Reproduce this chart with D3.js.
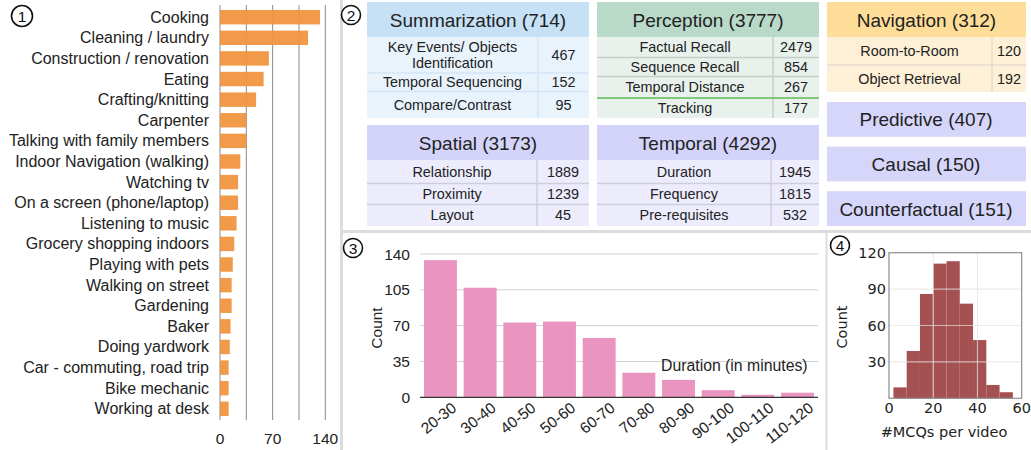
<!DOCTYPE html>
<html>
<head>
<meta charset="utf-8">
<script src="https://cdn.jsdelivr.net/npm/d3@7"></script>
<style>
  body { margin: 0; background: #fff; }
  svg { display: block; font-family: "Liberation Sans", Arial, Helvetica, sans-serif; }
</style>
</head>
<body>
<div id="chart"></div>
<script>
// ---- data ----
const activities = ["Cooking", "Cleaning / laundry", "Construction / renovation", "Eating",
  "Crafting/knitting", "Carpenter", "Talking with family members", "Indoor Navigation (walking)",
  "Watching tv", "On a screen (phone/laptop)", "Listening to music", "Grocery shopping indoors",
  "Playing with pets", "Walking on street", "Gardening", "Baker", "Doing yardwork",
  "Car - commuting, road trip", "Bike mechanic", "Working at desk"];
const activityCounts = [133, 117, 65, 58, 48, 35, 35, 27, 24, 24, 22, 19, 17, 15.5, 15.5, 14, 13, 11.5, 11.5, 11.5];
const activityTicks = [0, 70, 140];

const durations = ["20-30", "30-40", "40-50", "50-60", "60-70", "70-80", "80-90", "90-100", "100-110", "110-120"];
const durationCounts = [134, 107, 73, 74, 58, 24, 17, 7, 2.5, 4.5];
const durationTicks = [0, 35, 70, 105, 140];

const mcqBinEdges = [2, 8, 14, 20, 26, 32, 38, 44, 50, 56];
const mcqCounts = [9, 39, 86, 111, 113, 78, 48, 11, 5];
const mcqXTicks = [0, 20, 40, 60];
const mcqYTicks = [30, 60, 90, 120];

const summarizationRows = ["Key Events/ Objects|Identification", "Temporal Sequencing", "Compare/Contrast"];
const summarizationCounts = [467, 152, 95];
const perceptionRows = ["Factual Recall", "Sequence Recall", "Temporal Distance", "Tracking"];
const perceptionCounts = [2479, 854, 267, 177];
const navigationRows = ["Room-to-Room", "Object Retrieval"];
const navigationCounts = [120, 192];
const spatialRows = ["Relationship", "Proximity", "Layout"];
const spatialCounts = [1889, 1239, 45];
const temporalRows = ["Duration", "Frequency", "Pre-requisites"];
const temporalCounts = [1945, 1815, 532];
const singleCategories = ["Predictive (407)", "Causal (150)", "Counterfactual (151)"];

const svg = d3.select("#chart").append("svg")
  .attr("width", 1031)
  .attr("height", 450);

// panel separators
svg.append("line").attr("x1", 341.5).attr("x2", 341.5).attr("y1", 0).attr("y2", 450)
  .attr("stroke", "#dcdcdc").attr("stroke-width", 3);
svg.append("line").attr("x1", 341).attr("x2", 1031).attr("y1", 231.5).attr("y2", 231.5)
  .attr("stroke", "#dcdcdc").attr("stroke-width", 3);
svg.append("line").attr("x1", 826.5).attr("x2", 826.5).attr("y1", 233).attr("y2", 450)
  .attr("stroke", "#dcdcdc").attr("stroke-width", 2);

const badge = (cx, cy, r, label) => {
  svg.append("circle").attr("cx", cx).attr("cy", cy).attr("r", r)
    .attr("fill", "#fff").attr("stroke", "#111").attr("stroke-width", 1.6);
  svg.append("text").attr("x", cx).attr("y", cy + 5.5).attr("text-anchor", "middle")
    .attr("font-size", 15.5).attr("fill", "#111").text(label);
};

// ---- panel 1: activities ----
const x1 = d3.scaleLinear().domain([0, 140]).range([220, 325.3]);
const y1 = d3.scaleBand().domain(activities).range([10, 416]).paddingInner(0.3).paddingOuter(0);

svg.append("g").selectAll("line")
  .data(d3.range(0, 141, 35))
  .enter().append("line")
  .attr("x1", d => x1(d)).attr("x2", d => x1(d))
  .attr("y1", 5).attr("y2", 420)
  .attr("stroke", "#8a8a8a").attr("stroke-width", 1);

svg.append("g").selectAll("rect")
  .data(activityCounts)
  .enter().append("rect")
  .attr("x", x1(0))
  .attr("y", (d, i) => y1(activities[i]))
  .attr("width", d => x1(d) - x1(0))
  .attr("height", y1.bandwidth())
  .attr("fill", "#f0953f").attr("fill-opacity", 0.95);

svg.append("g").selectAll("text")
  .data(activities)
  .enter().append("text")
  .attr("x", 209)
  .attr("y", d => y1(d) + y1.bandwidth() / 2 + 5.5)
  .attr("text-anchor", "end")
  .attr("font-size", 16).attr("fill", "#222")
  .text(d => d);

svg.append("g").selectAll("text")
  .data(activityTicks)
  .enter().append("text")
  .attr("x", d => x1(d)).attr("y", 444)
  .attr("text-anchor", "middle").attr("font-size", 15.5).attr("fill", "#222")
  .text(d => d);

badge(22, 16, 10.5, "1");

// ---- panel 2: question categories ----
const tables = [
  { title: "Summarization (714)", rows: summarizationRows, counts: summarizationCounts,
    x: 367, x2: 589, div: 538, y: 2, head: 35, heights: [36, 18.5, 26.5],
    hc: "#c6e1f6", rc: "#e9f3fc", lc: "#d4e6f6" },
  { title: "Perception (3777)", rows: perceptionRows, counts: perceptionCounts,
    x: 597, x2: 819, div: 773, y: 2, head: 35, heights: [20.5, 19, 21.5, 20],
    hc: "#b9d9c9", rc: "#e9f1ec", lc: "#c9cdca", green: 3 },
  { title: "Navigation (312)", rows: navigationRows, counts: navigationCounts,
    x: 827, x2: 1026, div: 992, y: 2, head: 35, heights: [28, 27],
    hc: "#fedd99", rc: "#fdf0d6", lc: "#e6ddcc" },
  { title: "Spatial (3173)", rows: spatialRows, counts: spatialCounts,
    x: 367, x2: 589, div: 537, y: 125, head: 35, heights: [23.5, 21, 21.5],
    hc: "#d4d4fa", rc: "#ececfc", lc: "#cfcfdc" },
  { title: "Temporal (4292)", rows: temporalRows, counts: temporalCounts,
    x: 597, x2: 819, div: 771, y: 125, head: 35, heights: [23.5, 21, 21.5],
    hc: "#d4d4fa", rc: "#ececfc", lc: "#cfcfdc" }
];

tables.forEach(t => {
  const g = svg.append("g");
  g.append("rect").attr("x", t.x).attr("y", t.y).attr("width", t.x2 - t.x).attr("height", t.head)
    .attr("fill", t.hc);
  g.append("text").attr("x", (t.x + t.x2) / 2).attr("y", t.y + t.head / 2 + 7)
    .attr("text-anchor", "middle").attr("font-size", 19).attr("fill", "#222").text(t.title);
  const tops = [];
  let yy = t.y + t.head;
  t.heights.forEach(h => { tops.push(yy); yy += h; });
  g.append("rect").attr("x", t.x).attr("y", t.y + t.head).attr("width", t.x2 - t.x)
    .attr("height", yy - t.y - t.head).attr("fill", t.rc);
  g.append("line").attr("x1", t.div).attr("x2", t.div).attr("y1", t.y + t.head).attr("y2", yy)
    .attr("stroke", t.lc).attr("stroke-width", 1.5);
  t.rows.forEach((r, i) => {
    if (i > 0) {
      const isGreen = t.green === i;
      g.append("line").attr("x1", t.x).attr("x2", t.x2).attr("y1", tops[i]).attr("y2", tops[i])
        .attr("stroke", isGreen ? "#5cb85c" : t.lc).attr("stroke-width", 1.5);
    }
    const cy = tops[i] + t.heights[i] / 2;
    const lines = r.split("|");
    lines.forEach((ln, k) => {
      g.append("text").attr("x", (t.x + t.div) / 2)
        .attr("y", cy + 5 + (k - (lines.length - 1) / 2) * 16.5)
        .attr("text-anchor", "middle").attr("font-size", 14.4).attr("fill", "#222").text(ln);
    });
    g.append("text").attr("x", (t.div + t.x2) / 2).attr("y", cy + 5)
      .attr("text-anchor", "middle").attr("font-size", 14.4).attr("fill", "#222").text(t.counts[i]);
  });
});

const singleY = d3.scaleBand().domain(singleCategories).range([102, 226]).paddingInner(0.22);
svg.append("g").selectAll("rect")
  .data(singleCategories)
  .enter().append("rect")
  .attr("x", 827).attr("width", 199)
  .attr("y", d => singleY(d)).attr("height", singleY.bandwidth())
  .attr("fill", "#d6d6fb");
svg.append("g").selectAll("text")
  .data(singleCategories)
  .enter().append("text")
  .attr("x", 926).attr("y", d => singleY(d) + singleY.bandwidth() / 2 + 7)
  .attr("text-anchor", "middle").attr("font-size", 19).attr("fill", "#222")
  .text(d => d);

badge(351, 15, 9.5, "2");

// ---- panel 3: video duration ----
const x3 = d3.scaleBand().domain(durations).range([420, 818]).paddingInner(0.17).paddingOuter(0.1);
const y3 = d3.scaleLinear().domain([0, 140]).range([397.3, 254]);

svg.append("g").selectAll("line")
  .data(durationTicks.slice(1))
  .enter().append("line")
  .attr("x1", 420).attr("x2", 818)
  .attr("y1", d => y3(d)).attr("y2", d => y3(d))
  .attr("stroke", "#d0d0d0").attr("stroke-width", 1);

svg.append("g").selectAll("rect")
  .data(durationCounts)
  .enter().append("rect")
  .attr("x", (d, i) => x3(durations[i]))
  .attr("y", d => y3(d))
  .attr("width", x3.bandwidth())
  .attr("height", d => y3(0) - y3(d))
  .attr("fill", "#ea95bf");

svg.append("line").attr("x1", 420).attr("x2", 818).attr("y1", y3(0)).attr("y2", y3(0))
  .attr("stroke", "#333").attr("stroke-width", 1.2);

svg.append("g").selectAll("text")
  .data(durationTicks)
  .enter().append("text")
  .attr("x", 410).attr("y", d => y3(d) + 5.5)
  .attr("text-anchor", "end").attr("font-size", 15.5).attr("fill", "#222")
  .text(d => d);

svg.append("g").selectAll("text")
  .data(durations)
  .enter().append("text")
  .attr("transform", d => `translate(${x3(d) + x3.bandwidth() / 2 + 17},${410}) rotate(-38)`)
  .attr("text-anchor", "end").attr("font-size", 15.5).attr("fill", "#222")
  .text(d => d);

svg.append("text").attr("transform", "translate(382,328) rotate(-90)")
  .attr("text-anchor", "middle").attr("font-size", 15.5).attr("fill", "#222").text("Count");
svg.append("text").attr("x", 661).attr("y", 371)
  .attr("font-size", 15.8).attr("fill", "#222").text("Duration (in minutes)");

badge(353, 248, 9.5, "3");

// ---- panel 4: MCQs per video ----
const x4 = d3.scaleLinear().domain([0, 60]).range([889, 1021.7]);
const y4 = d3.scaleLinear().domain([0, 120]).range([398.3, 252.7]);
const dv = "'DejaVu Sans', sans-serif";

svg.append("g").selectAll("rect")
  .data(mcqCounts)
  .enter().append("rect")
  .attr("x", (d, i) => x4(mcqBinEdges[i]))
  .attr("y", d => y4(d))
  .attr("width", (d, i) => x4(mcqBinEdges[i + 1]) - x4(mcqBinEdges[i]))
  .attr("height", d => y4(0) - y4(d))
  .attr("fill", "#a65151");

svg.append("g").selectAll("line")
  .data([20, 40])
  .enter().append("line")
  .attr("x1", d => x4(d)).attr("x2", d => x4(d))
  .attr("y1", y4(120)).attr("y2", y4(0))
  .attr("stroke", "#e2e2e2").attr("stroke-opacity", 0.7).attr("stroke-width", 1.2);
svg.append("g").selectAll("line")
  .data([30, 60, 90])
  .enter().append("line")
  .attr("x1", x4(0)).attr("x2", x4(60))
  .attr("y1", d => y4(d)).attr("y2", d => y4(d))
  .attr("stroke", "#e2e2e2").attr("stroke-opacity", 0.7).attr("stroke-width", 1.2);

svg.append("rect").attr("x", x4(0)).attr("y", y4(120))
  .attr("width", x4(60) - x4(0)).attr("height", y4(0) - y4(120))
  .attr("fill", "none").attr("stroke", "#8c8c8c").attr("stroke-width", 1.2);

svg.append("g").selectAll("text")
  .data(mcqXTicks)
  .enter().append("text")
  .attr("x", d => x4(d)).attr("y", 413)
  .attr("text-anchor", "middle").attr("font-family", dv).attr("font-size", 14.5).attr("fill", "#222")
  .text(d => d);
svg.append("g").selectAll("text")
  .data(mcqYTicks)
  .enter().append("text")
  .attr("x", 886).attr("y", d => y4(d) + 5)
  .attr("text-anchor", "end").attr("font-family", dv).attr("font-size", 14.5).attr("fill", "#222")
  .text(d => d);

svg.append("text").attr("transform", "translate(847,327) rotate(-90)")
  .attr("text-anchor", "middle").attr("font-family", dv).attr("font-size", 14.5).attr("fill", "#222").text("Count");
svg.append("text").attr("x", 944).attr("y", 437)
  .attr("text-anchor", "middle").attr("font-family", dv).attr("font-size", 14.5).attr("fill", "#222").text("#MCQs per video");

badge(840, 245.5, 9.5, "4");
</script>
</body>
</html>
